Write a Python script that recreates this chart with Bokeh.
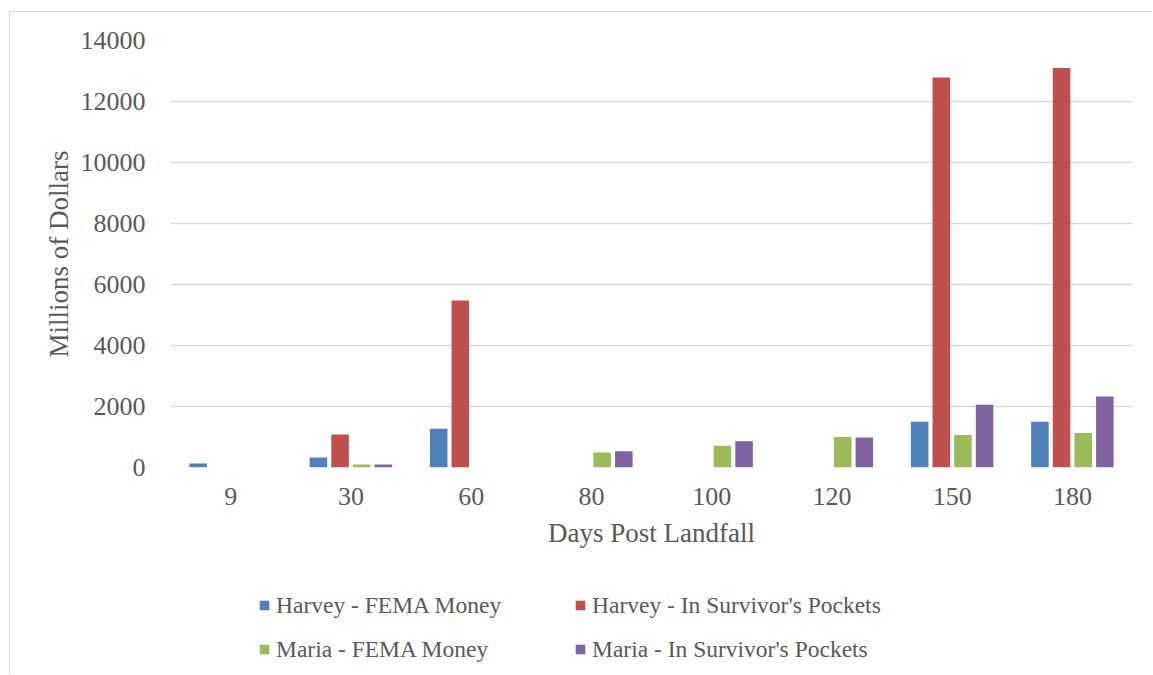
from bokeh.plotting import figure
from bokeh.layouts import column
from bokeh.models import (FactorRange, ColumnDataSource, FixedTicker, Legend,
                          LegendItem, InlineStyleSheet, Range1d)
from bokeh.transform import dodge
from bokeh.embed import file_html
from bokeh.resources import INLINE

# ---- data ----
days = ["9", "30", "60", "80", "100", "120", "150", "180"]
harvey_fema = [130, 330, 1270, 0, 0, 0, 1500, 1500]
harvey_pockets = [0, 1080, 5475, 0, 0, 0, 12790, 13100]
maria_fema = [0, 100, 0, 490, 710, 1000, 1065, 1130]
maria_pockets = [0, 100, 0, 535, 860, 980, 2055, 2330]
series_names = ["Harvey - FEMA Money", "Harvey - In Survivor's Pockets",
                "Maria - FEMA Money", "Maria - In Survivor's Pockets"]
series_keys = ["harvey_fema", "harvey_pockets", "maria_fema", "maria_pockets"]
colors = ["#4F81BD", "#C0504D", "#9BBB59", "#8064A2"]
y_ticks = [0, 2000, 4000, 6000, 8000, 10000, 12000, 14000]

source = ColumnDataSource(dict(days=days, harvey_fema=harvey_fema,
                               harvey_pockets=harvey_pockets,
                               maria_fema=maria_fema,
                               maria_pockets=maria_pockets))

FONT = "Liberation Serif"
TXT = "#595959"
W = 1152

p = figure(x_range=FactorRange(*days), y_range=(0, 14000),
           width=W, height=560, output_backend="svg",
           toolbar_location=None,
           min_border_left=170, min_border_right=20,
           min_border_top=40, min_border_bottom=93)
p.outline_line_color = None
p.background_fill_color = "white"
p.border_fill_color = "white"

offsets = [-0.27, -0.09, 0.09, 0.27]
for key, off, col in zip(series_keys, offsets, colors):
    p.vbar(x=dodge("days", off, range=p.x_range), top=key, width=0.146,
           source=source, fill_color=col, line_color=None)

# axes
p.yaxis.ticker = FixedTicker(ticks=y_ticks)
for ax in (p.xaxis[0], p.yaxis[0]):
    ax.axis_line_color = None
    ax.major_tick_line_color = None
    ax.minor_tick_line_color = None
    ax.major_label_text_font = FONT
    ax.major_label_text_color = TXT
    ax.major_label_text_font_size = "26px"
    ax.axis_label_text_font = FONT
    ax.axis_label_text_color = TXT
    ax.axis_label_text_font_size = "27px"
    ax.axis_label_text_font_style = "normal"
p.yaxis.major_label_standoff = 19
p.xaxis.major_label_standoff = 14
p.yaxis.axis_label = "Millions of Dollars"
p.xaxis.axis_label = "Days Post Landfall"
p.yaxis.axis_label_standoff = 4
p.xaxis.axis_label_standoff = 10

p.xgrid.grid_line_color = None
p.ygrid.grid_line_color = "#d9d9d9"
p.ygrid.grid_line_width = 1.6

# chart-area border (left and top edges of the chart box)
p.stylesheets = [InlineStyleSheet(css="""
:host::after {
  content: ""; position: absolute;
  left: 9px; top: 11px; right: 0px; bottom: 0px;
  border-left: 1.5px solid #d9d9d9; border-top: 1.5px solid #d9d9d9;
  pointer-events: none; z-index: 10;
}
""")]

# ---- legend strip below the chart ----
leg = figure(width=W, height=114, output_backend="svg", toolbar_location=None,
             x_range=Range1d(0, 1), y_range=Range1d(0, 1),
             x_axis_type=None, y_axis_type=None, min_border=0)
leg.outline_line_color = None
leg.xgrid.grid_line_color = None
leg.ygrid.grid_line_color = None
leg_renderers = [leg.vbar(x=[-5], top=[-5], width=0.1, fill_color=c,
                          line_color=None) for c in colors]
items = [LegendItem(label=n, renderers=[r])
         for n, r in zip(series_names, leg_renderers)]
# columns are filled top-to-bottom: put Harvey/Maria FEMA in column 1
legend = Legend(items=[items[0], items[2], items[1], items[3]],
                ncols=2, location=(88, 3),
                glyph_width=12, glyph_height=12, label_standoff=6,
                label_width=298, label_height=44, spacing=0,
                padding=0, margin=0,
                border_line_color=None, background_fill_alpha=0,
                label_text_font=FONT, label_text_color=TXT,
                label_text_font_size="23.5px")
leg.add_layout(legend)
leg.stylesheets = [InlineStyleSheet(css="""
:host::after {
  content: ""; position: absolute;
  left: 9px; top: 0px; right: 0px; bottom: 0px;
  border-left: 1.5px solid #d9d9d9;
  pointer-events: none; z-index: 10;
}
""")]

layout = column(p, leg, spacing=0)
open("out.html", "w").write(file_html(layout, INLINE))
